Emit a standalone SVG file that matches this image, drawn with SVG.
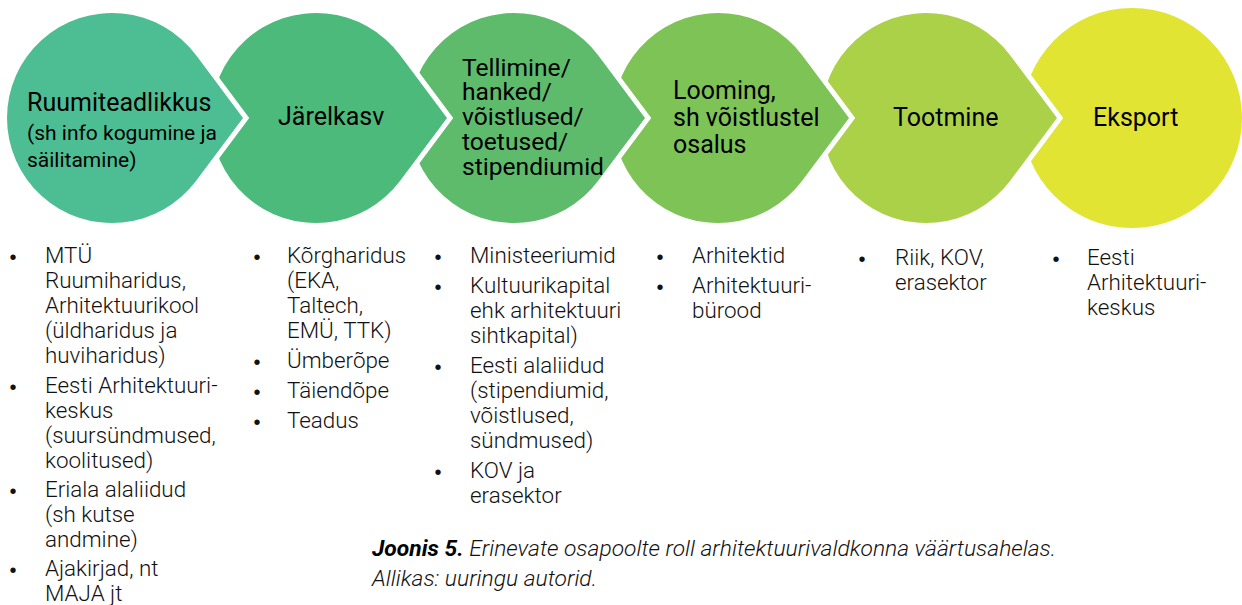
<svg xmlns="http://www.w3.org/2000/svg" width="1242" height="605" viewBox="0 0 1242 605">
<style>
.sh{stroke:#ffffff;stroke-width:10;stroke-linejoin:miter;stroke-miterlimit:10;paint-order:stroke}
.hd{font-family:Roboto,"Liberation Sans",sans-serif;font-size:25px;fill:#000}
.hd2{font-family:Roboto,"Liberation Sans",sans-serif;font-size:24.6px;fill:#000}
.sub{font-family:Roboto,"Liberation Sans",sans-serif;font-size:21px;fill:#000}
.bd{font-family:Roboto,"Liberation Sans",sans-serif;font-weight:300;font-size:22.4px;fill:#111}
.bu{font-family:"Liberation Sans",Arial,sans-serif;font-size:20px;fill:#111}
.cap{font-family:Roboto,"Liberation Sans",sans-serif;font-style:italic;font-weight:300;font-size:22.8px;fill:#111}
.capb{font-weight:700;fill:#000}
</style>
<rect width="1242" height="605" fill="#ffffff"/>
<g id="connectors"/>
<g id="node-eksport">
<circle cx="1132" cy="118" r="110" fill="#e1e432"/>
<text class="hd" x="1093" y="126">Eksport</text>
</g>
<g id="node-tootmine">
<path class="sh" fill="#abd148" d="M1057,118 L1010.16,55.21 A105,105 0 1 0 1010.16,180.79 Z"/>
<text class="hd" x="893" y="126">Tootmine</text>
</g>
<g id="node-looming">
<path class="sh" fill="#7dc355" d="M849,118 L802.16,55.21 A105,105 0 1 0 802.16,180.79 Z"/>
<text class="hd" x="673" y="99">Looming,</text>
<text class="hd" x="673" y="126">sh võistlustel</text>
<text class="hd" x="673" y="153">osalus</text>
</g>
<g id="node-tellimine">
<path class="sh" fill="#5dbb6b" d="M645,118 L598.16,55.21 A105,105 0 1 0 598.16,180.79 Z"/>
<text class="hd2" x="462" y="76">Tellimine/</text>
<text class="hd2" x="462" y="100">hanked/</text>
<text class="hd2" x="462" y="125">võistlused/</text>
<text class="hd2" x="462" y="150">toetused/</text>
<text class="hd2" x="462" y="175">stipendiumid</text>
</g>
<g id="node-jarelkasv">
<path class="sh" fill="#4cba7b" d="M447,118 L400.16,55.21 A105,105 0 1 0 400.16,180.79 Z"/>
<text class="hd" x="278" y="125">Järelkasv</text>
</g>
<g id="node-ruumiteadlikkus">
<path class="sh" fill="#4dbe93" d="M243,118 L196.16,55.21 A105,105 0 1 0 196.16,180.79 Z"/>
<text class="hd" x="27" y="111">Ruumiteadlikkus</text>
<text class="sub" x="27" y="140">(sh info kogumine ja</text>
<text class="sub" x="27" y="167">säilitamine)</text>
</g>
<g id="list-ruumiteadlikkus">
<text class="bu" x="9.5" y="264">•</text><text class="bd" x="45" y="263">MTÜ</text>
<text class="bd" x="45" y="288">Ruumiharidus,</text>
<text class="bd" x="45" y="313">Arhitektuurikool</text>
<text class="bd" x="45" y="338">(üldharidus ja</text>
<text class="bd" x="45" y="363">huviharidus)</text>
<text class="bu" x="9.5" y="394">•</text><text class="bd" x="45" y="393">Eesti Arhitektuuri-</text>
<text class="bd" x="45" y="418">keskus</text>
<text class="bd" x="45" y="443">(suursündmused,</text>
<text class="bd" x="45" y="468">koolitused)</text>
<text class="bu" x="9.5" y="498">•</text><text class="bd" x="45" y="497">Eriala alaliidud</text>
<text class="bd" x="45" y="522">(sh kutse</text>
<text class="bd" x="45" y="547">andmine)</text>
<text class="bu" x="9.5" y="577">•</text><text class="bd" x="45" y="576">Ajakirjad, nt</text>
<text class="bd" x="45" y="601">MAJA jt</text>
</g>
<g id="list-jarelkasv">
<text class="bu" x="253.5" y="264">•</text><text class="bd" x="287" y="263">Kõrgharidus</text>
<text class="bd" x="287" y="288">(EKA,</text>
<text class="bd" x="287" y="313">Taltech,</text>
<text class="bd" x="287" y="338">EMÜ, TTK)</text>
<text class="bu" x="253.5" y="369">•</text><text class="bd" x="287" y="368">Ümberõpe</text>
<text class="bu" x="253.5" y="399">•</text><text class="bd" x="287" y="398">Täiendõpe</text>
<text class="bu" x="253.5" y="429">•</text><text class="bd" x="287" y="428">Teadus</text>
</g>
<g id="list-tellimine">
<text class="bu" x="434.5" y="264">•</text><text class="bd" x="470" y="263">Ministeeriumid</text>
<text class="bu" x="434.5" y="294">•</text><text class="bd" x="470" y="293">Kultuurikapital</text>
<text class="bd" x="470" y="318">ehk arhitektuuri</text>
<text class="bd" x="470" y="343">sihtkapital)</text>
<text class="bu" x="434.5" y="374">•</text><text class="bd" x="470" y="373">Eesti alaliidud</text>
<text class="bd" x="470" y="398">(stipendiumid,</text>
<text class="bd" x="470" y="423">võistlused,</text>
<text class="bd" x="470" y="448">sündmused)</text>
<text class="bu" x="434.5" y="479">•</text><text class="bd" x="470" y="478">KOV ja</text>
<text class="bd" x="470" y="503">erasektor</text>
</g>
<g id="list-looming">
<text class="bu" x="656.5" y="264">•</text><text class="bd" x="692" y="263">Arhitektid</text>
<text class="bu" x="656.5" y="294">•</text><text class="bd" x="692" y="293">Arhitektuuri-</text>
<text class="bd" x="692" y="318">bürood</text>
</g>
<g id="list-tootmine">
<text class="bu" x="858.5" y="266">•</text><text class="bd" x="895" y="265">Riik, KOV,</text>
<text class="bd" x="895" y="290">erasektor</text>
</g>
<g id="list-eksport">
<text class="bu" x="1052.5" y="266">•</text><text class="bd" x="1087" y="265">Eesti</text>
<text class="bd" x="1087" y="290">Arhitektuuri-</text>
<text class="bd" x="1087" y="315">keskus</text>
</g>
<g id="caption">
<text class="cap" x="372" y="556"><tspan class="capb">Joonis 5.</tspan> Erinevate osapoolte roll arhitektuurivaldkonna väärtusahelas.</text>
<text class="cap" x="372" y="586">Allikas: uuringu autorid.</text>
</g>
</svg>
